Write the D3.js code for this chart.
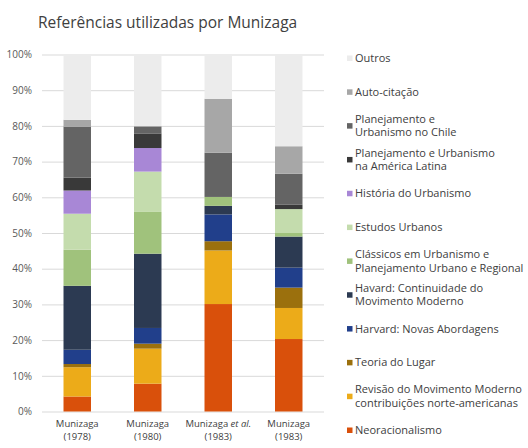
<!DOCTYPE html>
<html>
<head>
<meta charset="utf-8">
<script src="https://cdn.jsdelivr.net/npm/d3@7"></script>
<style>
  body { margin: 0; background: #fff; }
  text { font-family: "Open Sans", sans-serif; }
</style>
</head>
<body>
<script>
// categories (bottom of the stack first)
var keys = ["Neoracionalismo", "Revisão", "Teoria", "HarvardNovas", "HavardCont",
            "Classicos", "Estudos", "Historia", "PlanAL", "PlanChile", "Auto", "Outros"];

var legendLabels = [
  ["Neoracionalismo"],
  ["Revisão do Movimento Moderno", "contribuições norte-americanas"],
  ["Teoria do Lugar"],
  ["Harvard: Novas Abordagens"],
  ["Havard: Continuidade do", "Movimento Moderno"],
  ["Clássicos em Urbanismo e", "Planejamento Urbano e Regional"],
  ["Estudos Urbanos"],
  ["História do Urbanismo"],
  ["Planejamento e Urbanismo", "na América Latina"],
  ["Planejamento e", "Urbanismo no Chile"],
  ["Auto-citação"],
  ["Outros"]
];

var colors = ["#d9500b", "#ecab19", "#9b700d", "#213f8b", "#2c3a52", "#a0c27c",
              "#c4dcad", "#a887d6", "#393939", "#646464", "#a7a7a7", "#ececec"];

var bars = ["m1978", "m1980", "m1983b", "m1983"];
var barLine1 = ["Munizaga", "Munizaga", "Munizaga", "Munizaga"];
var barLine2 = ["(1978)", "(1980)", "(1983)", "(1983)"];

// percentages per category, one value per bar
var Neoracionalismo = [4.2, 7.8, 30.1, 20.3];
var Revisao       = [8.2, 9.8, 15.0, 8.7];
var Teoria        = [0.9, 1.4, 2.6, 5.7];
var HarvardNovas  = [4.0, 4.4, 7.5, 5.6];
var HavardCont    = [17.9, 20.8, 2.4, 8.7];
var Classicos     = [10.1, 11.7, 2.5, 1.0];
var Estudos       = [10.1, 11.3, 0, 6.7];
var Historia      = [6.5, 6.6, 0, 0];
var PlanAL        = [3.6, 4.1, 0, 1.2];
var PlanChile     = [14.3, 1.8, 12.4, 8.7];
var Auto          = [1.9, 0.3, 15.1, 7.7];
var Outros        = [18.3, 20.0, 12.4, 25.7];

var yTicks = [0, 10, 20, 30, 40, 50, 60, 70, 80, 90, 100];

var series = [Neoracionalismo, Revisao, Teoria, HarvardNovas, HavardCont, Classicos,
              Estudos, Historia, PlanAL, PlanChile, Auto, Outros];

var table = bars.map(function (b, i) {
  var row = { bar: b };
  keys.forEach(function (k, j) { row[k] = series[j][i]; });
  return row;
});

var w = 528, h = 448;
var svg = d3.select("body").append("svg")
            .attr("width", w)
            .attr("height", h);

svg.append("text")
   .attr("x", 38)
   .attr("y", 28)
   .attr("font-size", "15.5px")
   .attr("fill", "#404040")
   .text("Referências utilizadas por Munizaga");

var x = d3.scaleBand()
          .domain(bars)
          .range([42, 324])
          .paddingInner(0.61)
          .paddingOuter(0.305);

var y = d3.scaleLinear()
          .domain([0, 100])
          .range([411.5, 54.5]);

var color = d3.scaleOrdinal().domain(keys).range(colors);

// gridlines + y labels
var yAxis = svg.append("g")
               .attr("transform", "translate(42,0)")
               .call(d3.axisLeft(y).tickValues(yTicks)
                       .tickFormat(function (d) { return d + "%"; })
                       .tickSize(-282).tickPadding(10));
yAxis.select(".domain").remove();
yAxis.selectAll("line").attr("stroke", "#d9d9d9");
yAxis.selectAll("text")
     .attr("fill", "#595959")
     .attr("font-size", "10px")
     .attr("font-family", "Open Sans, sans-serif");

var stacked = d3.stack().keys(keys)(table);

svg.append("g").selectAll("g")
   .data(stacked)
   .enter().append("g")
   .attr("fill", function (d) { return color(d.key); })
   .selectAll("rect")
   .data(function (d) { return d; })
   .enter().append("rect")
   .attr("x", function (d) { return x(d.data.bar); })
   .attr("width", x.bandwidth())
   .attr("y", function (d) { return y(d[1]); })
   .attr("height", function (d) { return y(d[0]) - y(d[1]); });

// x labels (two lines each)
var xg = svg.append("g").selectAll("g")
            .data(bars)
            .enter().append("g")
            .attr("text-anchor", "middle")
            .attr("font-size", "9.5px")
            .attr("fill", "#404040");
xg.append("text")
  .attr("x", function (d) { return x(d) + x.bandwidth() / 2; })
  .attr("y", 427)
  .text(function (d, i) { return barLine1[i]; })
  .filter(function (d) { return d === "m1983b"; })
  .append("tspan")
  .attr("font-style", "italic")
  .text(" et al.");
xg.append("text")
  .attr("x", function (d) { return x(d) + x.bandwidth() / 2; })
  .attr("y", 440)
  .text(function (d, i) { return barLine2[i]; });

// legend, top = last key
var legendKeys = keys.slice().reverse();
var ly = d3.scalePoint().domain(legendKeys).range([58, 430]);

var lg = svg.append("g").selectAll("g")
            .data(legendKeys)
            .enter().append("g")
            .attr("transform", function (d) { return "translate(347," + ly(d) + ")"; });

lg.append("rect")
  .attr("x", 0).attr("y", -2.5)
  .attr("width", 5.5).attr("height", 5.5)
  .attr("fill", function (d) { return color(d); });

lg.each(function (d) {
  var lines = legendLabels[keys.indexOf(d)];
  var t = d3.select(this).append("text")
            .attr("font-size", "11px")
            .attr("fill", "#404040");
  lines.forEach(function (s, i) {
    t.append("tspan")
     .attr("x", 8)
     .attr("y", (i - (lines.length - 1) / 2) * 13.5 + 4)
     .text(s);
  });
});
</script>
</body>
</html>
